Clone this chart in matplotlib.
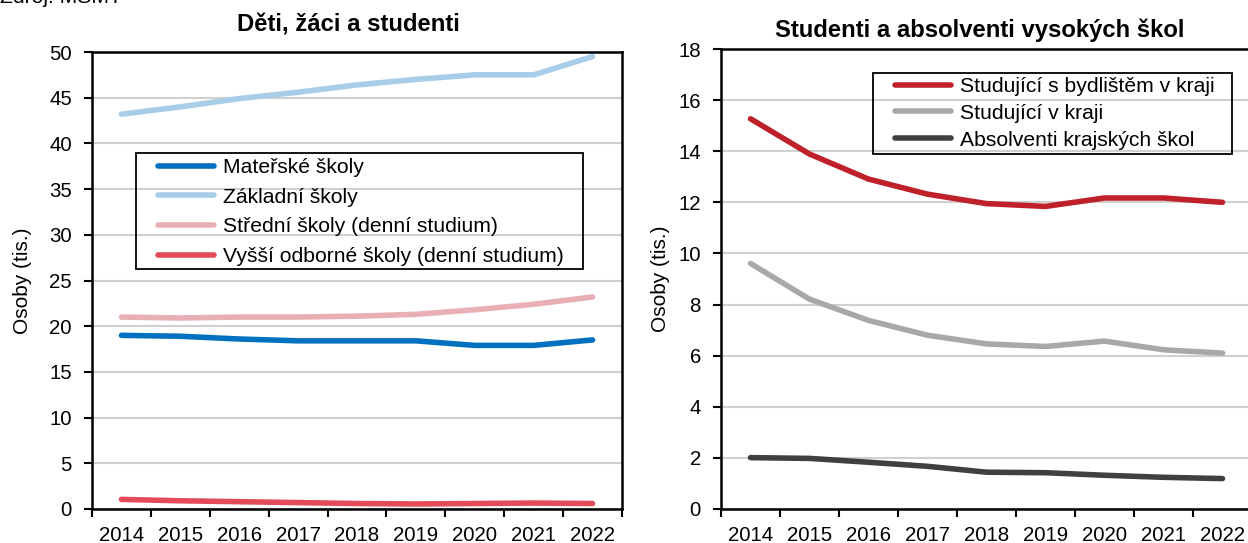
import matplotlib
matplotlib.use("Agg")
import matplotlib.pyplot as plt
from matplotlib.ticker import FixedLocator
from matplotlib.patches import Rectangle

plt.rcParams['font.family'] = ['Liberation Sans', 'DejaVu Sans']

years = ['2014', '2015', '2016', '2017', '2018', '2019', '2020', '2021', '2022']

# Left panel: Děti, žáci a studenti (tis.)
materske = [19.0, 18.9, 18.6, 18.4, 18.4, 18.4, 17.9, 17.9, 18.5]
zakladni = [43.2, 44.0, 44.9, 45.6, 46.4, 47.0, 47.5, 47.5, 49.5]
stredni = [21.0, 20.9, 21.0, 21.0, 21.1, 21.3, 21.8, 22.4, 23.2]
vyssi = [1.05, 0.9, 0.8, 0.7, 0.6, 0.55, 0.6, 0.65, 0.6]

# Right panel: Studenti a absolventi vysokých škol (tis.)
bydliste = [15.27, 13.89, 12.91, 12.32, 11.95, 11.84, 12.17, 12.17, 12.0]
v_kraji = [9.61, 8.21, 7.38, 6.80, 6.46, 6.36, 6.57, 6.23, 6.10]
absolventi = [2.01, 1.98, 1.83, 1.67, 1.44, 1.42, 1.32, 1.24, 1.19]

W, H = 1248, 543
fig = plt.figure(figsize=(W / 100, H / 100), dpi=100)

def px_axes(x0, x1, ytop, ybot):
    return fig.add_axes([x0 / W, (H - ybot) / H, (x1 - x0) / W, (ybot - ytop) / H])

def fx(px):
    return px / W

def fy(py):
    return (H - py) / H

ax1 = px_axes(92, 622, 52, 509)
ax2 = px_axes(721, 1252, 49, 509)

FS_TICK = 14.7
FS_LEG = 15.2
FS_LAB = 15
FS_TITLE = 17.2
LW = 4.0
x = list(range(len(years)))

def style(ax, ymax, ystep):
    ax.set_xlim(-0.5, len(years) - 0.5)
    ax.set_ylim(0, ymax)
    ax.set_yticks([i * ystep for i in range(int(ymax / ystep) + 1)])
    ax.set_xticks(x)
    ax.set_xticklabels(years)
    ax.xaxis.set_minor_locator(FixedLocator([i - 0.5 for i in range(len(years) + 1)]))
    ax.tick_params(axis='x', which='major', length=0, labelsize=FS_TICK, pad=12.5)
    ax.tick_params(axis='x', which='minor', length=6, width=1.5, direction='out')
    ax.tick_params(axis='y', which='major', length=6, width=1.5, direction='out',
                   labelsize=FS_TICK, pad=8.5)
    ax.grid(axis='y', color='#D0D0D0', linewidth=1.5)
    ax.set_axisbelow(True)
    for s in ax.spines.values():
        s.set_linewidth(1.8)
        s.set_color('black')
    ax.set_ylabel('Osoby (tis.)', fontsize=FS_LAB)

style(ax1, 50, 5)
style(ax2, 18, 2)
ax1.yaxis.set_label_coords(-0.114, 0.5)
ax2.yaxis.set_label_coords(-0.096, 0.5)

kw = dict(linewidth=LW, solid_capstyle='round', solid_joinstyle='round')
ax1.plot(x, materske, color='#0070C0', label='Mateřské školy', **kw)
ax1.plot(x, zakladni, color='#A7CDE9', label='Základní školy', **kw)
ax1.plot(x, stredni, color='#E8B0B6', label='Střední školy (denní studium)', **kw)
ax1.plot(x, vyssi, color='#E24B57', label='Vyšší odborné školy (denní studium)', **kw)

ax2.plot(x, bydliste, color='#C0202A', label='Studující s bydlištěm v kraji', **kw)
ax2.plot(x, v_kraji, color='#A8A8A8', label='Studující v kraji', **kw)
ax2.plot(x, absolventi, color='#404040', label='Absolventi krajských škol', **kw)

leg_kw = dict(fontsize=FS_LEG, frameon=False, handlelength=2.65, handletextpad=0.43,
              borderpad=0, borderaxespad=0, bbox_transform=fig.transFigure)
l1 = ax1.legend(loc='upper left', bbox_to_anchor=(fx(158), fy(158.3)),
                labelspacing=0.5, **leg_kw)
l2 = ax2.legend(loc='upper left', bbox_to_anchor=(fx(895), fy(77)),
                labelspacing=0.37, **leg_kw)

# legend frames
for (x0, x1, y0, y1) in [(136, 583, 152.7, 269), (873, 1232, 72.7, 154)]:
    fig.patches.append(Rectangle((fx(x0), fy(y1)), fx(x1) - fx(x0), fy(y0) - fy(y1),
                                 transform=fig.transFigure, fill=False,
                                 edgecolor='black', linewidth=1.3, zorder=10))

ax1.set_title('Děti, žáci a studenti', fontsize=FS_TITLE, fontweight='bold', pad=15, x=0.483)
ax2.set_title('Studenti a absolventi vysokých škol', fontsize=FS_TITLE, fontweight='bold',
              pad=9, x=0.488)

fig.text(0.0, 1 - 3 / H, 'Zdroj: MŠMT', fontsize=FS_LEG, ha='left', va='baseline')

fig.savefig('out.png', dpi=100)
